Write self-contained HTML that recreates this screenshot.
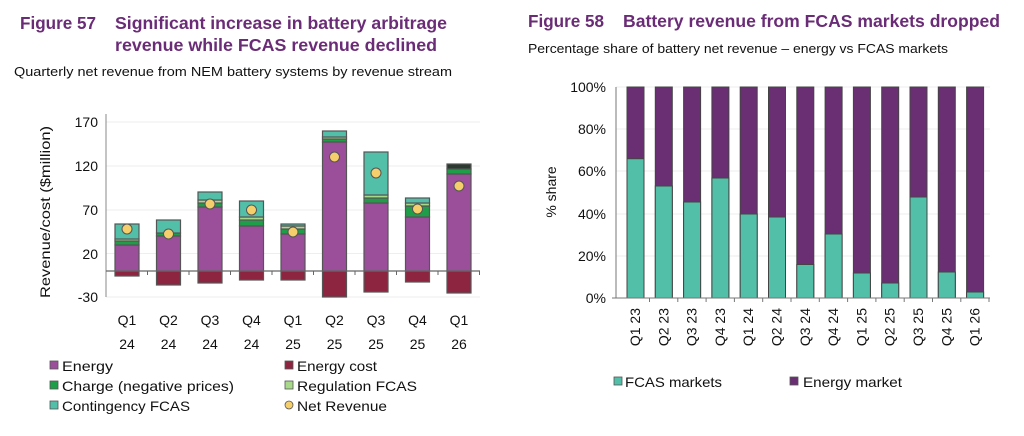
<!DOCTYPE html>
<html><head><meta charset="utf-8"><style>
body{margin:0;background:#fff;}
svg{display:block;font-family:"Liberation Sans",sans-serif;}
.t{font-weight:bold;fill:#6b2c77;font-size:17.5px;}
.s{fill:#111;font-size:13px;}
.ax{fill:#111;font-size:14px;}
.lg{fill:#111;font-size:14px;}
</style></head><body>
<svg width="1024" height="436" viewBox="0 0 1024 436">
<text class="t" x="20" y="29" textLength="76" lengthAdjust="spacingAndGlyphs">Figure 57</text>
<text class="t" x="115" y="29" textLength="332" lengthAdjust="spacingAndGlyphs">Significant increase in battery arbitrage</text>
<text class="t" x="115" y="51" textLength="322" lengthAdjust="spacingAndGlyphs">revenue while FCAS revenue declined</text>
<text class="s" x="14" y="76" textLength="438" lengthAdjust="spacingAndGlyphs">Quarterly net revenue from NEM battery systems by revenue stream</text>

<text class="t" x="528" y="27" textLength="76" lengthAdjust="spacingAndGlyphs">Figure 58</text>
<text class="t" x="623" y="27" textLength="377" lengthAdjust="spacingAndGlyphs">Battery revenue from FCAS markets dropped</text>
<text class="s" x="528" y="53" textLength="420" lengthAdjust="spacingAndGlyphs">Percentage share of battery net revenue – energy vs FCAS markets</text>

<g stroke="#eee" stroke-width="1">
<line x1="106" y1="122" x2="480" y2="122"/><line x1="106" y1="166" x2="480" y2="166"/>
<line x1="106" y1="210" x2="480" y2="210"/><line x1="106" y1="253.5" x2="480" y2="253.5"/>
<line x1="106" y1="297" x2="480" y2="297"/>
</g>
<g class="ax" text-anchor="end" font-size="15">
<text x="98" y="127">170</text><text x="98" y="171">120</text><text x="98" y="215">70</text>
<text x="98" y="259">20</text><text x="98" y="302">-30</text>
</g>
<text class="ax" transform="translate(50,212) rotate(-90)" text-anchor="middle" font-size="15" textLength="172" lengthAdjust="spacingAndGlyphs">Revenue/cost ($million)</text>
<line x1="106" y1="114" x2="106" y2="297" stroke="#888"/>
<g stroke="#555" stroke-width="1.2">
<rect x="115" y="271" width="24" height="5" fill="#8e2540"/>
<rect x="115" y="245" width="24" height="26" fill="#9b4f9b"/>
<rect x="115" y="241" width="24" height="4" fill="#1e9e48"/>
<rect x="115" y="239" width="24" height="2" fill="#a8d88a"/>
<rect x="115" y="224" width="24" height="15" fill="#52bfa8"/>
<rect x="156.5" y="271" width="24" height="14" fill="#8e2540"/>
<rect x="156.5" y="236" width="24" height="35" fill="#9b4f9b"/>
<rect x="156.5" y="233" width="24" height="3" fill="#1e9e48"/>
<rect x="156.5" y="220" width="24" height="13" fill="#52bfa8"/>
<rect x="198" y="271" width="24" height="12" fill="#8e2540"/>
<rect x="198" y="207" width="24" height="64" fill="#9b4f9b"/>
<rect x="198" y="203" width="24" height="4" fill="#1e9e48"/>
<rect x="198" y="200" width="24" height="3" fill="#a8d88a"/>
<rect x="198" y="192" width="24" height="8" fill="#52bfa8"/>
<rect x="239.5" y="271" width="24" height="9" fill="#8e2540"/>
<rect x="239.5" y="226" width="24" height="45" fill="#9b4f9b"/>
<rect x="239.5" y="220" width="24" height="6" fill="#1e9e48"/>
<rect x="239.5" y="217" width="24" height="3" fill="#a8d88a"/>
<rect x="239.5" y="201" width="24" height="16" fill="#52bfa8"/>
<rect x="281" y="271" width="24" height="9" fill="#8e2540"/>
<rect x="281" y="234" width="24" height="37" fill="#9b4f9b"/>
<rect x="281" y="229" width="24" height="5" fill="#1e9e48"/>
<rect x="281" y="226" width="24" height="3" fill="#a8d88a"/>
<rect x="281" y="224" width="24" height="2" fill="#52bfa8"/>
<rect x="322.5" y="271" width="24" height="26" fill="#8e2540"/>
<rect x="322.5" y="142" width="24" height="129" fill="#9b4f9b"/>
<rect x="322.5" y="139" width="24" height="3" fill="#1e9e48"/>
<rect x="322.5" y="137" width="24" height="2" fill="#a8d88a"/>
<rect x="322.5" y="131" width="24" height="6" fill="#52bfa8"/>
<rect x="364" y="271" width="24" height="21" fill="#8e2540"/>
<rect x="364" y="203" width="24" height="68" fill="#9b4f9b"/>
<rect x="364" y="198" width="24" height="5" fill="#1e9e48"/>
<rect x="364" y="195" width="24" height="3" fill="#a8d88a"/>
<rect x="364" y="152" width="24" height="43" fill="#52bfa8"/>
<rect x="405.5" y="271" width="24" height="11" fill="#8e2540"/>
<rect x="405.5" y="217" width="24" height="54" fill="#9b4f9b"/>
<rect x="405.5" y="206" width="24" height="11" fill="#1e9e48"/>
<rect x="405.5" y="203" width="24" height="3" fill="#a8d88a"/>
<rect x="405.5" y="198" width="24" height="5" fill="#52bfa8"/>
<rect x="447" y="271" width="24" height="22" fill="#8e2540"/>
<rect x="447" y="174" width="24" height="97" fill="#9b4f9b"/>
<rect x="447" y="169" width="24" height="5" fill="#1e9e48"/>
<rect x="447" y="164" width="24" height="5" fill="#2b3a2e"/>
</g>
<line x1="106" y1="271" x2="480" y2="271" stroke="#666" stroke-width="1.3"/>
<g stroke="#666">
<line x1="147.5" y1="271" x2="147.5" y2="275"/><line x1="189" y1="271" x2="189" y2="275"/>
<line x1="230.5" y1="271" x2="230.5" y2="275"/><line x1="272" y1="271" x2="272" y2="275"/>
<line x1="313.5" y1="271" x2="313.5" y2="275"/><line x1="355" y1="271" x2="355" y2="275"/>
<line x1="396.5" y1="271" x2="396.5" y2="275"/><line x1="438" y1="271" x2="438" y2="275"/>
<line x1="479.5" y1="271" x2="479.5" y2="275"/>
</g>
<g fill="#f5cf6b" stroke="#555" stroke-width="1">
<circle cx="127" cy="229" r="5"/><circle cx="168.5" cy="234" r="5"/><circle cx="210" cy="204" r="5"/>
<circle cx="251.5" cy="210" r="5"/><circle cx="293" cy="232" r="5"/><circle cx="334.5" cy="157" r="5"/>
<circle cx="376" cy="173" r="5"/><circle cx="417.5" cy="209" r="5"/><circle cx="459" cy="186" r="5"/>
</g>
<g class="ax" text-anchor="middle" font-size="15">
<text x="127" y="325">Q1</text><text x="168.5" y="325">Q2</text><text x="210" y="325">Q3</text>
<text x="251.5" y="325">Q4</text><text x="293" y="325">Q1</text><text x="334.5" y="325">Q2</text>
<text x="376" y="325">Q3</text><text x="417.5" y="325">Q4</text><text x="459" y="325">Q1</text>
<text x="127" y="349">24</text><text x="168.5" y="349">24</text><text x="210" y="349">24</text>
<text x="251.5" y="349">24</text><text x="293" y="349">25</text><text x="334.5" y="349">25</text>
<text x="376" y="349">25</text><text x="417.5" y="349">25</text><text x="459" y="349">26</text>
</g>
<g stroke="#555" stroke-width="0.8">
<rect x="50" y="361" width="8" height="8" fill="#9b4f9b"/>
<rect x="50" y="381" width="8" height="8" fill="#1e9e48"/>
<rect x="50" y="401" width="8" height="8" fill="#52bfa8"/>
<rect x="285" y="361" width="8" height="8" fill="#8e2540"/>
<rect x="285" y="381" width="8" height="8" fill="#a8d88a"/>
<circle cx="289" cy="405" r="4" fill="#f5cf6b"/>
</g>
<g class="lg">
<text x="62" y="371" textLength="51" lengthAdjust="spacingAndGlyphs">Energy</text>
<text x="62" y="391" textLength="172" lengthAdjust="spacingAndGlyphs">Charge (negative prices)</text>
<text x="62" y="411" textLength="128" lengthAdjust="spacingAndGlyphs">Contingency FCAS</text>
<text x="297" y="371" textLength="80" lengthAdjust="spacingAndGlyphs">Energy cost</text>
<text x="297" y="391" textLength="120" lengthAdjust="spacingAndGlyphs">Regulation FCAS</text>
<text x="297" y="411" textLength="90" lengthAdjust="spacingAndGlyphs">Net Revenue</text>
</g>

<g stroke="#eee">
<line x1="616" y1="87" x2="990" y2="87"/><line x1="616" y1="129" x2="990" y2="129"/>
<line x1="616" y1="171" x2="990" y2="171"/><line x1="616" y1="214" x2="990" y2="214"/>
<line x1="616" y1="256" x2="990" y2="256"/>
</g>
<g class="ax" text-anchor="end" font-size="15">
<text x="606" y="92">100%</text><text x="606" y="134">80%</text><text x="606" y="176">60%</text>
<text x="606" y="219">40%</text><text x="606" y="261">20%</text><text x="606" y="303">0%</text>
</g>
<text class="ax" transform="translate(556,192) rotate(-90)" text-anchor="middle" font-size="16">% share</text>
<g stroke="#444" stroke-width="1">
<rect x="627" y="87" width="17" height="211" fill="#6a2f73"/><rect x="627" y="158.7" width="17" height="139.3" fill="#52bfa8"/>
<rect x="655.3" y="87" width="17" height="211" fill="#6a2f73"/><rect x="655.3" y="186" width="17" height="112" fill="#52bfa8"/>
<rect x="683.6" y="87" width="17" height="211" fill="#6a2f73"/><rect x="683.6" y="202" width="17" height="96" fill="#52bfa8"/>
<rect x="711.9" y="87" width="17" height="211" fill="#6a2f73"/><rect x="711.9" y="178" width="17" height="120" fill="#52bfa8"/>
<rect x="740.2" y="87" width="17" height="211" fill="#6a2f73"/><rect x="740.2" y="214" width="17" height="84" fill="#52bfa8"/>
<rect x="768.5" y="87" width="17" height="211" fill="#6a2f73"/><rect x="768.5" y="217" width="17" height="81" fill="#52bfa8"/>
<rect x="796.8" y="87" width="17" height="211" fill="#6a2f73"/><rect x="796.8" y="264.5" width="17" height="33.5" fill="#52bfa8"/>
<rect x="825.1" y="87" width="17" height="211" fill="#6a2f73"/><rect x="825.1" y="234" width="17" height="64" fill="#52bfa8"/>
<rect x="853.4" y="87" width="17" height="211" fill="#6a2f73"/><rect x="853.4" y="273" width="17" height="25" fill="#52bfa8"/>
<rect x="881.7" y="87" width="17" height="211" fill="#6a2f73"/><rect x="881.7" y="283" width="17" height="15" fill="#52bfa8"/>
<rect x="910" y="87" width="17" height="211" fill="#6a2f73"/><rect x="910" y="197" width="17" height="101" fill="#52bfa8"/>
<rect x="938.3" y="87" width="17" height="211" fill="#6a2f73"/><rect x="938.3" y="272" width="17" height="26" fill="#52bfa8"/>
<rect x="966.6" y="87" width="17" height="211" fill="#6a2f73"/><rect x="966.6" y="292" width="17" height="6" fill="#52bfa8"/>
</g>
<line x1="616" y1="87" x2="616" y2="298" stroke="#777"/>
<line x1="612" y1="298" x2="990" y2="298" stroke="#777"/>
<g stroke="#777">
<line x1="649.5" y1="298" x2="649.5" y2="302"/><line x1="677.8" y1="298" x2="677.8" y2="302"/>
<line x1="706.1" y1="298" x2="706.1" y2="302"/><line x1="734.4" y1="298" x2="734.4" y2="302"/>
<line x1="762.7" y1="298" x2="762.7" y2="302"/><line x1="791" y1="298" x2="791" y2="302"/>
<line x1="819.3" y1="298" x2="819.3" y2="302"/><line x1="847.6" y1="298" x2="847.6" y2="302"/>
<line x1="875.9" y1="298" x2="875.9" y2="302"/><line x1="904.2" y1="298" x2="904.2" y2="302"/>
<line x1="932.5" y1="298" x2="932.5" y2="302"/><line x1="960.8" y1="298" x2="960.8" y2="302"/>
<line x1="989" y1="298" x2="989" y2="302"/>
</g>
<g class="ax" font-size="14" text-anchor="end">
<text transform="translate(640,308) rotate(-90)">Q1 23</text>
<text transform="translate(668.3,308) rotate(-90)">Q2 23</text>
<text transform="translate(696.6,308) rotate(-90)">Q3 23</text>
<text transform="translate(724.9,308) rotate(-90)">Q4 23</text>
<text transform="translate(753.2,308) rotate(-90)">Q1 24</text>
<text transform="translate(781.5,308) rotate(-90)">Q2 24</text>
<text transform="translate(809.8,308) rotate(-90)">Q3 24</text>
<text transform="translate(838.1,308) rotate(-90)">Q4 24</text>
<text transform="translate(866.4,308) rotate(-90)">Q1 25</text>
<text transform="translate(894.7,308) rotate(-90)">Q2 25</text>
<text transform="translate(923,308) rotate(-90)">Q3 25</text>
<text transform="translate(951.3,308) rotate(-90)">Q4 25</text>
<text transform="translate(979.6,308) rotate(-90)">Q1 26</text>
</g>
<g stroke="#555" stroke-width="0.8">
<rect x="614" y="377" width="8" height="8" fill="#52bfa8"/>
<rect x="790" y="377" width="8" height="8" fill="#6a2f73"/>
</g>
<g class="lg">
<text x="625" y="387" textLength="97" lengthAdjust="spacingAndGlyphs">FCAS markets</text>
<text x="803" y="387" textLength="99" lengthAdjust="spacingAndGlyphs">Energy market</text>
</g>
</svg>
</body></html>
